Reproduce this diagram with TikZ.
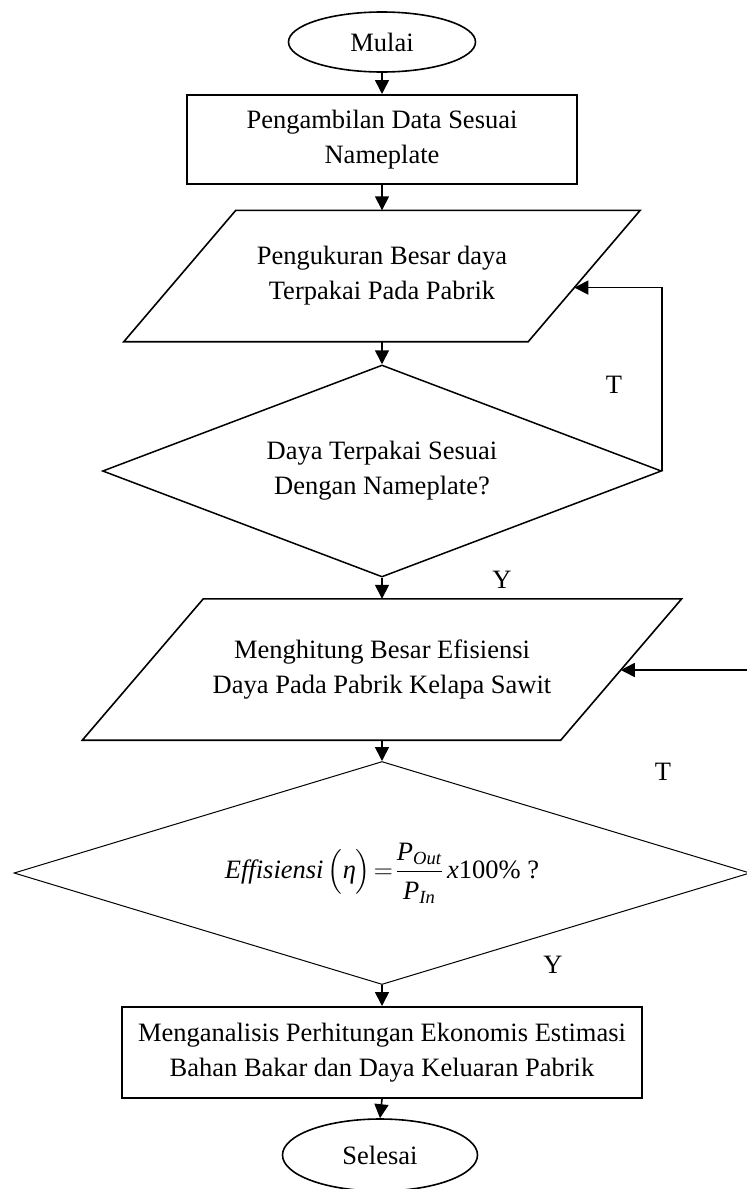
\RequirePackage{fix-cm}
\documentclass[tikz,border=0pt]{standalone}
\usepackage{fontspec}
\setmainfont{Liberation Serif}
\usepackage{amsmath}
\usetikzlibrary{shapes.geometric,arrows.meta,calc}
\begin{document}
\begin{tikzpicture}[x=1pt,y=-1pt,
  every node/.style={font=\fontsize{26.5}{35}\selectfont},
  ln/.style={line width=1.6pt},
  arr/.style={line width=1.6pt,-{Triangle[length=14pt,width=14pt]}},
  term/.style={ellipse,draw,line width=1.6pt,inner sep=0pt},
  proc/.style={rectangle,draw,line width=2pt,inner sep=0pt,align=center},
  iobox/.style={rectangle,inner sep=0pt,align=center},
  decide/.style={diamond,draw,inner sep=0pt,align=center,aspect=2.6},
  lbl/.style={inner sep=0pt}]
\useasboundingbox (0,0) rectangle (747,1189);
\clip (0,0) rectangle (747,1189);
\coordinate (redge) at (747,0);

% nodes
\node[term,minimum width=187pt,minimum height=60pt] (start) at (382,42) {Mulai};
\node[proc,minimum width=390pt,minimum height=89pt] (r1) at (382,139.5) {Pengambilan Data Sesuai\\Nameplate};
\node[iobox,minimum width=516pt,minimum height=131pt] (p1) at (382,276) {Pengukuran Besar daya\\Terpakai Pada Pabrik};
\node[decide,line width=1.5pt,minimum width=559pt,minimum height=212pt] (d1) at (382,471) {Daya Terpakai Sesuai\\Dengan Nameplate?};
\node[iobox,minimum width=599pt,minimum height=141pt] (p2) at (382,669.5) {Menghitung Besar Efisiensi\\Daya Pada Pabrik Kelapa Sawit};
\node[decide,line width=1pt,minimum width=736pt,minimum height=223pt] (d2) at (382,873)
  {$\text{\itshape Effisiensi}\,\Bigl(\text{\itshape η}\Bigr)\!=\!\dfrac{\text{\itshape P}_{\text{\itshape Out}}\rule[-5pt]{0pt}{0pt}}{\text{\itshape P}_{\text{\itshape In}}\rule{0pt}{24pt}}\,\text{\itshape x}\text{100\% ?}$};
\node[proc,minimum width=520pt,minimum height=91pt] (r2) at (382,1052.5) {Menganalisis Perhitungan Ekonomis Estimasi\\Bahan Bakar dan Daya Keluaran Pabrik};
\node[term,minimum width=195pt,minimum height=72pt] (end) at (380,1155) {Selesai};

% parallelogram outlines
\coordinate (p1tl) at ($(p1.north west)+(112,0)$);
\coordinate (p1br) at ($(p1.south east)+(-112,0)$);
\draw[ln] (p1.south west) -- (p1tl) -- (p1.north east) -- (p1br) -- cycle;
\coordinate (p2tl) at ($(p2.north west)+(121,0)$);
\coordinate (p2br) at ($(p2.south east)+(-121,0)$);
\draw[ln] (p2.south west) -- (p2tl) -- (p2.north east) -- (p2br) -- cycle;
\coordinate (p1in) at ($(p1br)!0.412!(p1.north east)$);
\coordinate (p2in) at ($(p2br)!0.4965!(p2.north east)$);

% connectors
\draw[arr] (start.south) -- (r1.north);
\draw[arr] (r1.south) -- (p1.north);
\draw[arr] (p1.south) -- (d1.north);
\draw[arr] (d1.south) -- (p2.north);
\draw[arr] (p2.south) -- (d2.north);
\draw[arr] (d2.south) -- (r2.north);
\draw[arr] (r2.south) -- (end.north);
\draw[arr] (d1.east) |- (p1in);
\draw[arr] (p2in -| redge) -- (p2in);

% labels
\node[lbl] (t1) at (614,385) {T};
\node[lbl] (y1) at (502,580) {Y};
\node[lbl] (t2) at (663,772) {T};
\node[lbl] (y2) at (553,965) {Y};
\end{tikzpicture}
\end{document}
